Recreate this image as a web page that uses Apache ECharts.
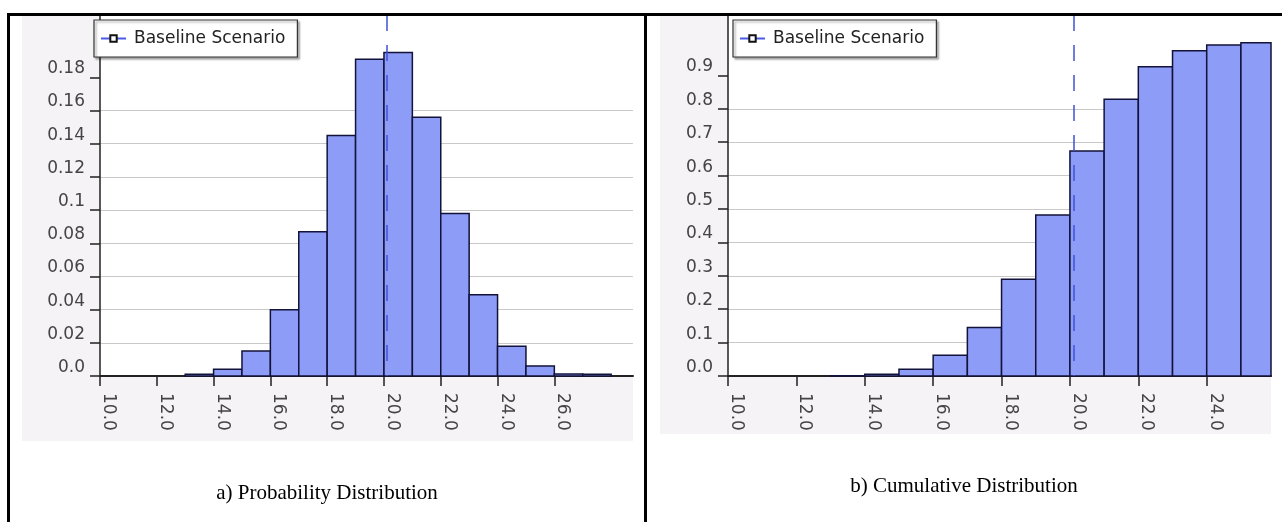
<!DOCTYPE html>
<html>
<head>
<meta charset="utf-8">
<script src="https://cdn.jsdelivr.net/npm/echarts@6/dist/echarts.min.js"></script>
<style>
  html, body { margin: 0; padding: 0; background: #fff; }
  #main { width: 1282px; height: 522px; }
</style>
</head>
<body>
<div id="main"></div>
<script>
// histogram bins (left edge of each 1.0 wide bin)
const probBins = [13, 14, 15, 16, 17, 18, 19, 20, 21, 22, 23, 24, 25, 26, 27];
const probValues = [0.001, 0.004, 0.015, 0.040, 0.087, 0.145, 0.191, 0.195, 0.156, 0.098, 0.049, 0.018, 0.006, 0.0012, 0.001];

const cumBins = [13, 14, 15, 16, 17, 18, 19, 20, 21, 22, 23, 24, 25];
const cumValues = [0.001, 0.005, 0.020, 0.062, 0.145, 0.290, 0.482, 0.674, 0.829, 0.926, 0.974, 0.991, 0.998];

const probYTicks = [0, 0.02, 0.04, 0.06, 0.08, 0.1, 0.12, 0.14, 0.16, 0.18];
const cumYTicks = [0, 0.1, 0.2, 0.3, 0.4, 0.5, 0.6, 0.7, 0.8, 0.9];
const probXTicks = [10, 12, 14, 16, 18, 20, 22, 24, 26];
const cumXTicks = [10, 12, 14, 16, 18, 20, 22, 24];

const meanValue = 20.1;
const seriesName = 'Baseline Scenario';
const captions = ['a) Probability Distribution', 'b) Cumulative Distribution'];

const FONT = 'DejaVu Sans';
const BAR_FILL = '#8d9cf6';
const BAR_EDGE = '#12123a';
const GRID_LINE = '#c9c9c9';

let chart = echarts.init(document.getElementById('main'));

function histItem(params, api) {
    let start = api.value(0);
    let v = api.value(1);
    let p0 = api.coord([start, v]);
    let p1 = api.coord([start + 1, 0]);
    let cs = params.coordSys;
    let shape = echarts.graphic.clipRectByRect(
        { x: p0[0], y: p0[1], width: p1[0] - p0[0], height: p1[1] - p0[1] },
        { x: cs.x, y: cs.y - 2, width: cs.width, height: cs.height + 4 }
    );
    if (!shape) return;
    return {
        type: 'rect',
        shape: shape,
        style: { fill: BAR_FILL, stroke: BAR_EDGE, lineWidth: 1.5 }
    };
}

function yAxisOf(gridIndex, max, interval, ticks, fmt) {
    // hide the split lines above the last labelled tick (plot is cropped there)
    let colors = [];
    for (let i = 0; i < 12; i++) colors.push(i < 10 ? GRID_LINE : 'rgba(0,0,0,0)');
    return {
        gridIndex: gridIndex,
        type: 'value',
        min: 0,
        max: max,
        interval: interval,
        axisLine: { show: true, lineStyle: { color: '#222', width: 1.5 } },
        axisTick: { show: true, length: 10, customValues: ticks, lineStyle: { color: '#222', width: 1.5 } },
        axisLabel: {
            customValues: ticks,
            formatter: fmt,
            margin: 15,
            verticalAlign: 'bottom',
            fontFamily: FONT,
            fontSize: 17,
            color: '#444'
        },
        splitLine: { show: true, showMaxLine: false, lineStyle: { color: colors, width: 1.2 } }
    };
}

function xAxisOf(gridIndex, max, ticks) {
    return {
        gridIndex: gridIndex,
        type: 'value',
        min: 10,
        max: max,
        interval: 2,
        axisLine: { onZero: false, lineStyle: { color: '#222', width: 2 } },
        axisTick: { show: true, length: 10, customValues: ticks, lineStyle: { color: '#222', width: 1.5 } },
        axisLabel: {
            customValues: ticks,
            rotate: -90,
            margin: 17,
            verticalAlign: 'bottom',
            formatter: function (v) { return v.toFixed(1); },
            fontFamily: FONT,
            fontSize: 17,
            color: '#444'
        },
        splitLine: { show: false }
    };
}

function legendOf(left) {
    return {
        left: left,
        top: 20,
        data: [seriesName],
        orient: 'horizontal',
        itemWidth: 25,
        itemHeight: 8,
        padding: [10, 12, 10, 6],
        backgroundColor: '#fff',
        borderColor: '#333',
        borderWidth: 1.2,
        shadowColor: 'rgba(0,0,0,0.35)',
        shadowBlur: 2,
        shadowOffsetX: 2,
        shadowOffsetY: 2,
        textStyle: { fontFamily: FONT, fontSize: 17, color: '#222', padding: [0, 0, 0, 3] }
    };
}

function meanLine(xi, yi) {
    return {
        name: seriesName,
        type: 'line',
        xAxisIndex: xi,
        yAxisIndex: yi,
        data: [],
        symbol: 'rect',
        symbolSize: 6,
        lineStyle: { color: '#4a5ae6', width: 3 },
        itemStyle: { color: '#fff', borderColor: '#111', borderWidth: 1.5 },
        markLine: {
            silent: true,
            symbol: 'none',
            label: { show: false },
            lineStyle: { color: '#3f52d6', width: 1.5, type: [16, 14], dashOffset: 15 },
            data: [{ xAxis: meanValue }]
        }
    };
}

function panelGraphics() {
    let g = [];
    // gray chart panels
    g.push({ type: 'rect', z: -100, shape: { x: 22, y: 16, width: 611, height: 425 }, style: { fill: '#f6f3f6' } });
    g.push({ type: 'rect', z: -100, shape: { x: 660, y: 16, width: 611, height: 418 }, style: { fill: '#f6f3f6' } });
    // table frame
    g.push({ type: 'rect', z: 100, shape: { x: 7, y: 13, width: 1275, height: 3 }, style: { fill: '#000' } });
    g.push({ type: 'rect', z: 100, shape: { x: 7, y: 13, width: 3, height: 509 }, style: { fill: '#000' } });
    g.push({ type: 'rect', z: 100, shape: { x: 644, y: 13, width: 3, height: 509 }, style: { fill: '#000' } });
    // captions, centred in their table cells
    g.push({ type: 'text', x: 327, y: 493, style: { text: captions[0], font: '21px "Liberation Serif"', fill: '#000', align: 'center', verticalAlign: 'middle' } });
    g.push({ type: 'text', x: 964, y: 486, style: { text: captions[1], font: '21px "Liberation Serif"', fill: '#000', align: 'center', verticalAlign: 'middle' } });
    return g;
}

let option = {
    animation: false,
    backgroundColor: '#fff',
    graphic: { elements: panelGraphics() },
    legend: [legendOf(94), legendOf(733)],
    grid: [
        { left: 100, top: 16, width: 533, height: 360, show: true, backgroundColor: '#fff', borderWidth: 0 },
        { left: 728, top: 16, width: 543, height: 360, show: true, backgroundColor: '#fff', borderWidth: 0 }
    ],
    xAxis: [xAxisOf(0, 28.77, probXTicks), xAxisOf(1, 25.88, cumXTicks)],
    yAxis: [
        yAxisOf(0, 0.217, 0.02, probYTicks, function (v) { return v === 0 ? '0.0' : String(+v.toFixed(2)); }),
        yAxisOf(1, 1.078, 0.1, cumYTicks, function (v) { return (+v).toFixed(1); })
    ],
    series: [
        {
            name: 'probability',
            type: 'custom',
            xAxisIndex: 0,
            yAxisIndex: 0,
            renderItem: histItem,
            encode: { x: 0, y: 1 },
            data: probBins.map(function (b, i) { return [b, probValues[i]]; })
        },
        {
            name: 'cumulative',
            type: 'custom',
            xAxisIndex: 1,
            yAxisIndex: 1,
            renderItem: histItem,
            encode: { x: 0, y: 1 },
            data: cumBins.map(function (b, i) { return [b, cumValues[i]]; })
        },
        meanLine(0, 0),
        meanLine(1, 1)
    ]
};

chart.setOption(option);
</script>
</body>
</html>
